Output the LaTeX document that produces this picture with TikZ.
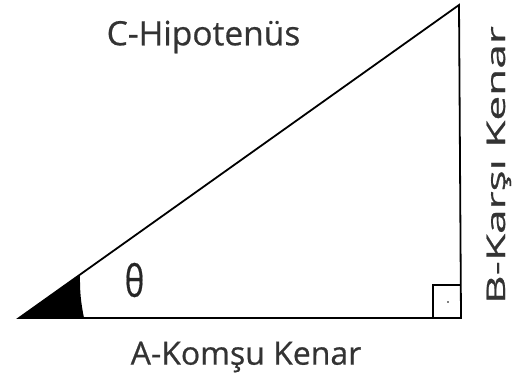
\documentclass[tikz,border=0pt]{standalone}
\usepackage{fontspec}
\setmainfont{Open Sans}[FakeBold=0.6]
\begin{document}
\begin{tikzpicture}[x=1pt,y=-1pt,
  edge/.style={line width=1.8pt,line cap=round,line join=miter},
  lbl/.style={text=black!80,font=\fontsize{32}{36}\selectfont,inner sep=0pt}]
\useasboundingbox (0,0) rectangle (513,386);
\coordinate (A) at (19,318);
\coordinate (R) at (461,318);
\coordinate (T) at (459,5);
% filled angle
\fill (A) -- (84,318) to[bend left=6] (80,274.6) -- cycle;
\draw[edge] (A) -- (R) -- (T) -- cycle;
% right angle mark
\coordinate (Q1) at (433,318);
\coordinate (Q2) at (433,285);
\coordinate (Q3) at (461,285);
\draw[line width=1.4pt] (Q1) -- (Q2) -- (Q3);
\fill (448,302) circle (0.9);
\node[lbl,font=\fontsize{33.5}{36}\selectfont] (hyp) at (203.5,37) {C-Hipotenüs};
\node[lbl] (adj) at (246,357) {A-Komşu Kenar};
\node[lbl,rotate=90,anchor=base] (opp) at (505,165) {\scalebox{1.38}[0.8]{B-Karşı Kenar}};
\node[text=black!85,inner sep=0pt,font=\fontsize{44}{46}\selectfont] (th) at (134.5,280) {\scalebox{0.75}[1]{θ}};
\end{tikzpicture}
\end{document}
